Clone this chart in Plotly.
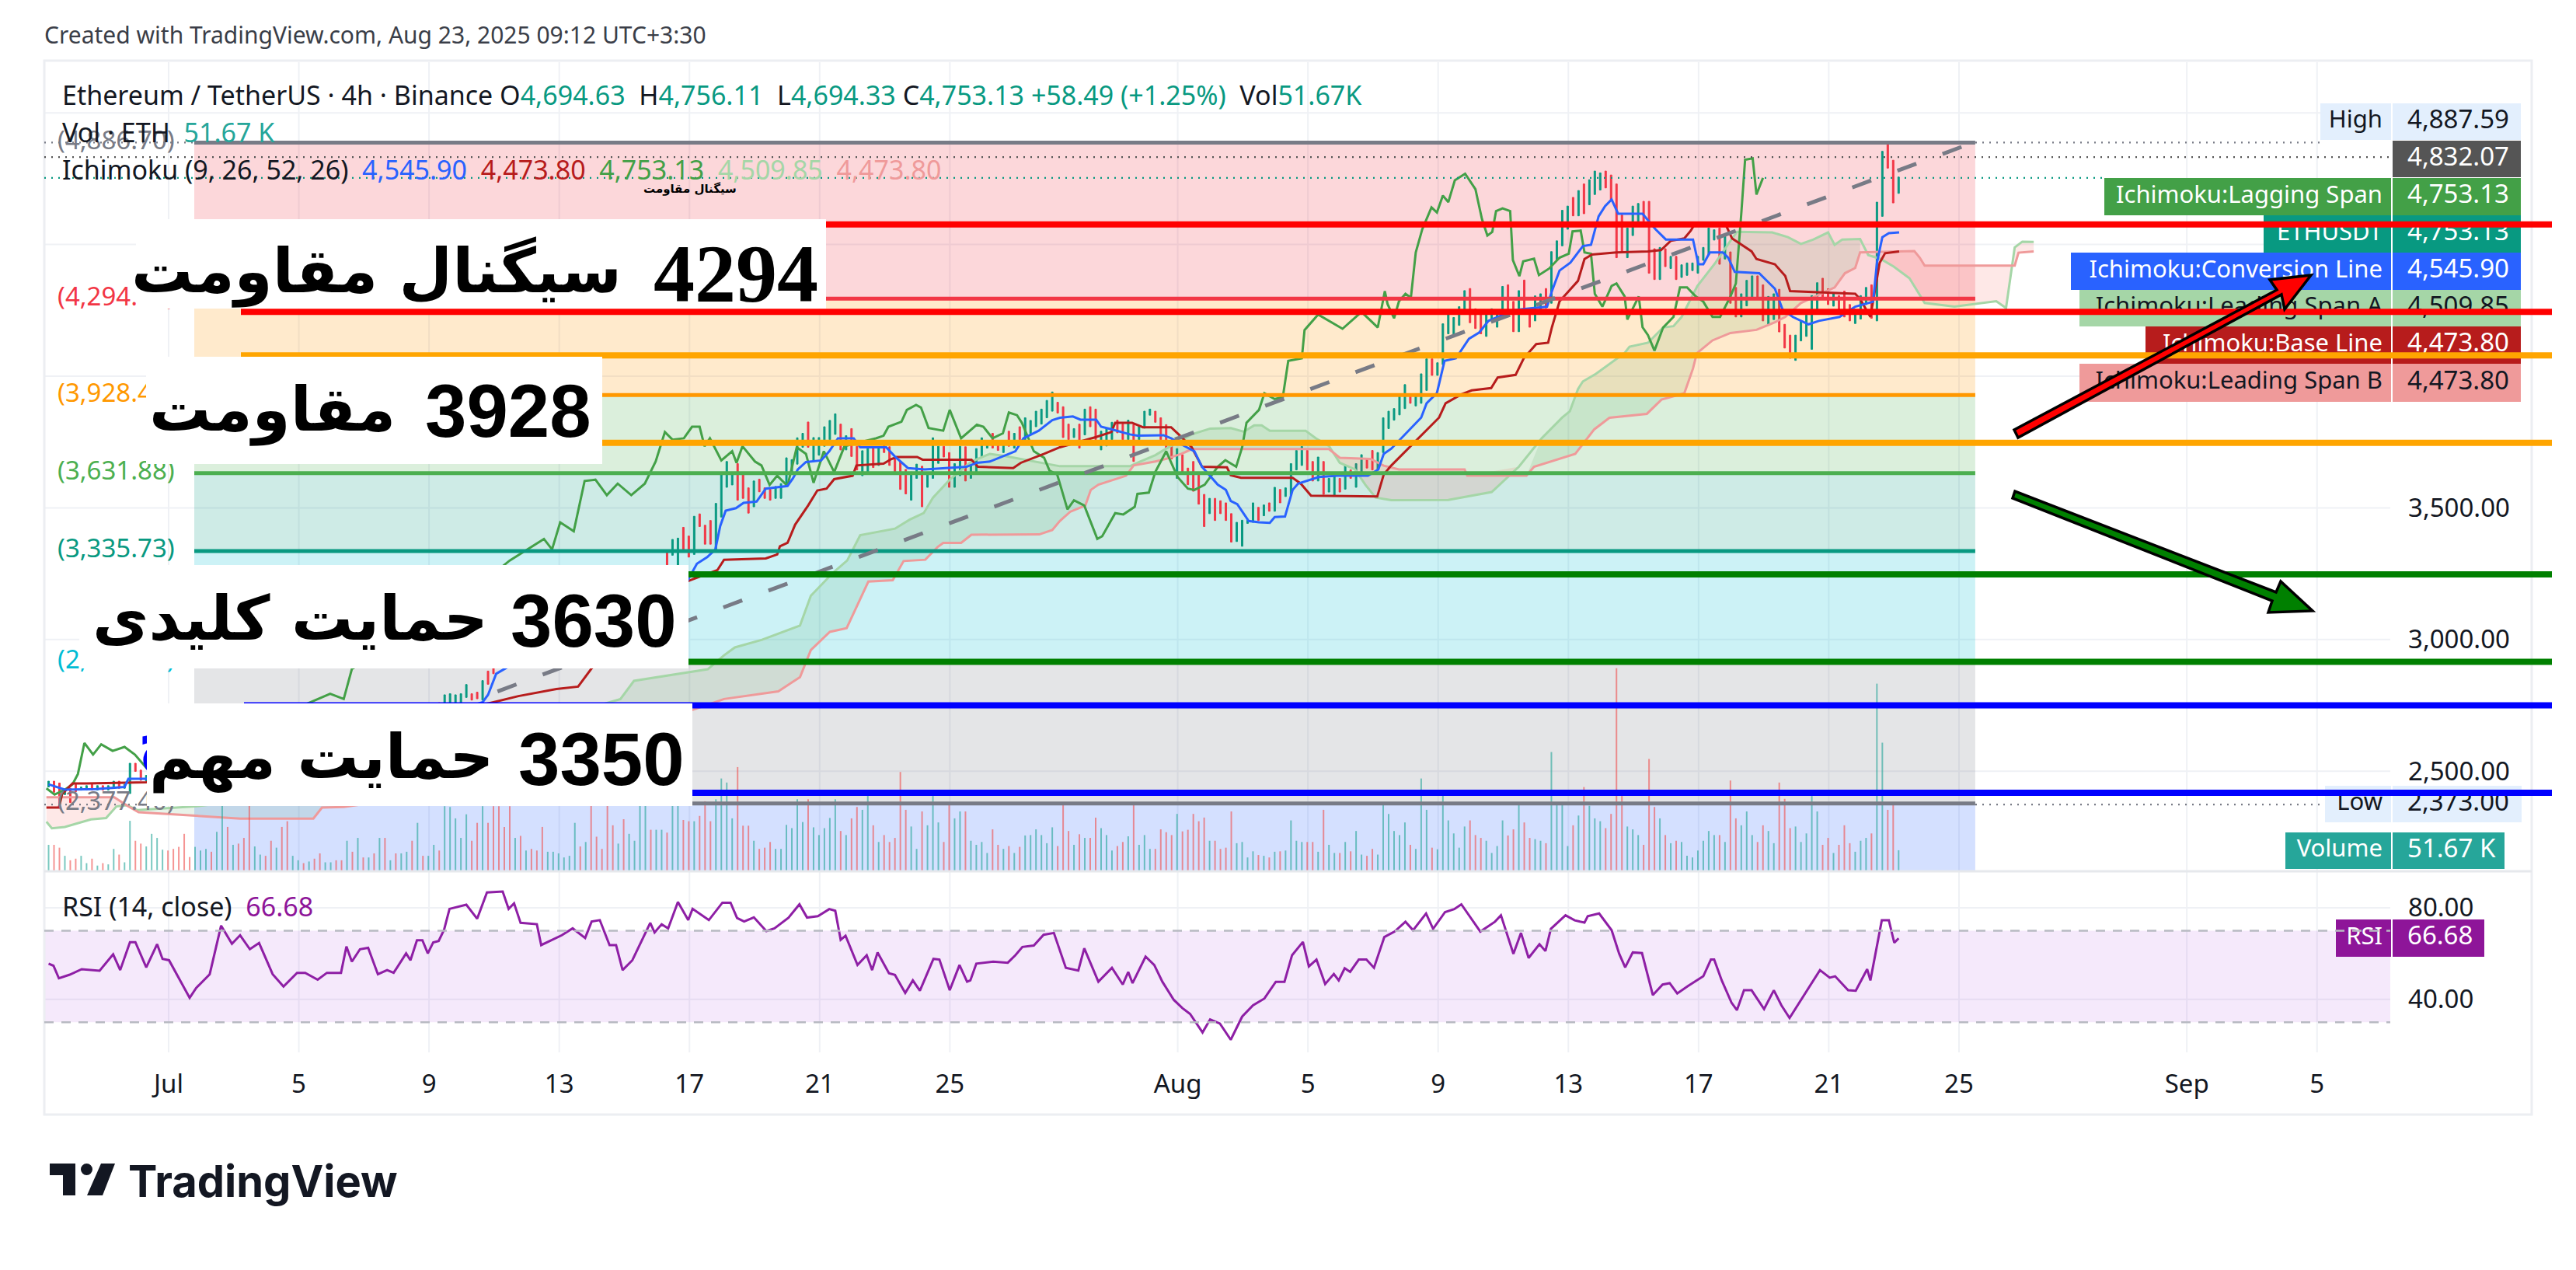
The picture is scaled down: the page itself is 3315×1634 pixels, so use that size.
import pandas as pd
import plotly.graph_objects as go

W, H = 3315, 1634
PANE_L, PANE_R, PANE_T, PANE_MID, PANE_B = 57, 3076, 80, 1121, 1354

# ---------- 4h candles (high / low / direction), Jun 27 07:30 onwards ----------
bar_start = "2025-06-27 07:30"
high_a = [2462,2462,2455,2428,2435,2450,2440,2445,2450,2445,2445,2445,2462,2462,2450,2530,2530,2504,2484]
low_a = [2440,2420,2376,2411,2381,2422,2428,2428,2428,2428,2428,2428,2440,2435,2435,2415,2499,2465,2462]
high_b = [2480,2490,2500,2490,2490,2480,2470,2460,2480,2490,2480,2470,2510,2550,2560,2550,2540,2530,2560,2580,
          2590,2570,2570,2560,2540,2520,2530,2530,2540,2530,2520,2530,2540,2540,2530,2530,2580,2570,2600,2590,
          2610,2590,2620,2610,2620,2590,2620,2600,2620,2650,2640,2680,2720,2760,2790,
          2794,2790,2794,2829,2794,2800,2844,
          2880,2910,2960,2960,2980,2970,3000,2980,2970,2990,2990,3000,3020,3030,3010,3010,3000,3000,3020,3040,
          3060,3080,3040,3000,3010,3060,3100,3140,3120,3130,3160,3210,3280,3330,3380]
low_b = [2450,2460,2470,2460,2455,2450,2435,2430,2450,2460,2450,2440,2470,2500,2520,2510,2500,2500,2520,2540,
         2550,2540,2530,2520,2500,2490,2500,2500,2510,2500,2490,2500,2510,2505,2500,2495,2530,2530,2560,2560,
         2570,2560,2580,2580,2580,2560,2580,2570,2590,2610,2610,2640,2680,2720,2750,
         2740,2740,2750,2780,2770,2775,2770,
         2830,2870,2900,2920,2940,2940,2950,2945,2940,2950,2960,2970,2980,2995,2980,2975,2965,2970,2985,3000,
         3020,3030,2980,2960,2970,3000,3050,3090,3085,3090,3120,3160,3210,3260,3320]
high_c = [3385,3426,3393,3468,3477,3434,3452,3517,3627,3676,3627,3668,3627,3576,3602,3609,3576,3570,3581,3592,
          3690,3683,3766,3783,3826,3767,3767,3808,3832,3857,3818,3774,3801,3734,3717,3725,3732,3732,3754,3732,
          3690,3676,3646,3636,3666,3658,3632,3766,3734,3734,3710,3668,3734,3732,3661,3725,3766,3744,3783,3744,
          3744,3791,3783,3808,3842,3832]
low_c = [3274,3342,3313,3323,3429,3362,3362,3342,3465,3578,3587,3529,3536,3480,3504,3561,3536,3529,3536,3536,
         3583,3636,3666,3730,3730,3676,3700,3734,3759,3779,3720,3720,3695,3644,3622,3632,3653,3661,3710,3661,
         3636,3570,3553,3529,3612,3504,3578,3612,3669,3693,3578,3578,3622,3602,3612,3636,3693,3727,3727,3718,
         3710,3734,3727,3759,3759,3783]
high_d = [3867,3875,3908,3940,3901,3884,3818,3801,3818,3875,3884,3875,3791,3801,3825,3833,3818,3833,3816,3808,
          3867,3875,3867,3842,3816,3735,3725,3702,3651,3676,3634,3551,3536,3536,3527,3519,3478,3445,3453,3455,
          3519,3502,3511,3519,3578,3570,3576,3668,3718,3733,3718,3676,3693,3676,3612,3627,3612,3661,3644,3668,
          3702,3686,3718,3710,3842,3867]
low_d = [3808,3818,3842,3867,3860,3767,3759,3767,3727,3777,3808,3759,3720,3735,3759,3785,3759,3759,3676,3759,
         3803,3852,3825,3759,3728,3686,3612,3629,3588,3563,3514,3429,3478,3452,3478,3452,3370,3372,3354,3441,
         3445,3452,3470,3487,3487,3519,3543,3548,3644,3661,3644,3602,3602,3551,3560,3546,3560,3571,3612,3578,
         3637,3651,3644,3644,3710,3801]
high_e = [3877,3924,3968,3933,3926,4009,4066,4066,4051,4199,4235,4223,4264,4325,4333,4256,4245,4235,4256,4235,
          4341,4347,4284,4325,4365,4235,4305,4313,4333,4473,4514,4630,4646,4679,4705,4730,4746,4779,4772,4779,
          4764,4730,4612,4563,4646,4656,4664]
low_e = [3833,3853,3877,3897,3887,3897,3946,4003,4003,4044,4161,4151,4193,4235,4203,4181,4161,4151,4210,4186,
         4254,4254,4169,4169,4235,4186,4210,4254,4259,4277,4441,4495,4558,4609,4609,4617,4651,4690,4707,4715,
         4671,4450,4473,4450,4534,4578,4588]
high_f = [4664,4484,4489,4484,4455,4455,4423,4430,4430,4455,4489,4563,4556,4563,4531,4472,4337,4313,4364,4381,
          4381,4347,4303,4313,4330,4197,4156,4156,4208,4232,4306,4355,4372,4332,4313,4306,4323,4272,4254,4306,
          4337,4347,4661,4854,4887.59,4820,4756.11]
low_f = [4391,4367,4367,4416,4409,4367,4375,4383,4401,4391,4440,4460,4517,4425,4445,4277,4225,4225,4267,4291,
         4291,4210,4193,4215,4168,4107,4068,4060,4134,4151,4102,4254,4293,4272,4266,4249,4225,4210,4200,4217,
         4272,4220,4210,4607,4790,4658,4694.33]
bar_dir = ("GRRGRRGGRGRGGRGGRRG"
           "GGGRRRRRGGGRGGRGRRRGGRRGRRGGRGRRGGRRGRGRGRGRGRGGRGRGGRG"
           "GGGGRRG"
           "RRRRRGRGRRRGGGGGGRGRRRRRGRGGGGRGGRG"
           "GRRGRRRGGG" "GRRRGRRRGG" "GGGGRGGGGG" "RGRRGGRGRR" "RRRGGRGGGR" "RGGRGGGGRR" "GRGRGG"
           "GGGGRRRGRG" "RRGGGRRGRG" "GGRRRRGRRR" "RRGRRRRGGG" "GRGRGRGGGG" "RRGRGGRGRG" "GRRGGG"
           "GGGRGGGRGG" "GGGGRRRGGG" "GRRGRRGGRG" "GGGRGRGGGR" "RRRGGGR"
           "RRGRGRGGGG" "GGGRGRRGGG" "RRGGRRRGGG" "GGRRGRRRGG" "GRGGRRG")

# ---------- Volume, thousands of ETH ----------
volume_k = [65,65,58,38,27,31,38,20,31,14,20,17,55,41,22,124,75,68,61,92,82,53,51,55,60,92,35,60,51,55,
            48,97,177,109,65,68,82,177,61,41,38,75,58,109,123,38,27,20,24,31,44,22,22,27,27,75,48,82,34,34,
            44,82,82,27,44,44,48,75,119,38,38,65,51,160,158,130,82,140,75,119,160,119,160,160,109,160,82,87,51,55,
            51,109,48,48,44,34,38,119,61,72,164,85,55,164,113,68,128,92,75,164,164,102,102,102,95,164,164,126,123,123,
            136,172,123,177,228,218,130,256,112,112,75,55,58,72,55,55,114,106,177,121,177,108,89,106,131,177,99,89,130,
            158,151,185,113,72,89,72,82,244,151,110,55,147,113,185,120,72,165,130,147,147,75,65,72,45,103,65,55,62,45,
            60,88,89,103,89,69,108,62,165,99,65,91,82,82,132,106,89,51,62,72,86,165,65,89,55,55,103,96,89,141,
            98,102,141,123,132,75,75,55,58,147,69,72,34,49,40,38,34,48,49,51,125,75,72,72,72,48,151,65,45,45,
            72,49,99,41,38,55,41,165,141,99,89,120,65,55,228,151,58,54,192,125,93,58,110,125,89,82,75,45,62,125,
            88,103,165,120,82,79,75,69,293,168,168,62,113,137,207,161,130,123,106,141,499,185,110,103,89,65,276,158,130,89,
            69,75,72,38,34,51,75,99,89,89,72,223,130,113,147,89,72,113,99,69,218,178,106,110,72,93,185,147,65,82,
            45,65,113,69,48,75,82,93,461,316,151,168,51.67]

# ---------- Ichimoku lines: bar position / price pairs ----------
conv_t = [0,3,8.7,14,14.7,18,50,80,81,82.5,90,105,115,118.8,119.5,121.4,122.9,123.8,124.8,126.7,128.1,130.5,132.2,136.2,137.2,138.1,139.6,142.4,143.9,145.5,148.4,149.6,154.4,156,158.4,161.5,169.2,171.1,173.5,178.2,179.7,182.5,185,186.4,188.8,190.2,193.1,194,196,199.3,200.7,205.5,206.9,209.8,211.2,212.6,214.1,215.5,217,217.9,219.1,221.2,223.1,225.1,226,227.9,229.3,230.3,234.1,237.5,243.2,245.1,246.1,247.5,253,254,255.9,257.3,259.4,261.8,263.7,265.4,268.3,270,271.4,276.2,277.1,278.5,280.5,282.1,282.8,284.3,285.7,286.9,288.1,289.3,293.8,296.2,298.1,303.1,304.1,305,306.2,308.6,309.6,310.8,315.3,318.2,319.6,321.5,324.4,326.3,330.1,333,336.3,337,338,339.2,341.1]
conv_v = [2450,2430,2432,2440,2471,2471,2560,2762,2790,2870,2960,3000,3120,3259,3288,3313,3342,3431,3489,3499,3519,3524,3573,3583,3612,3646,3674,3680,3715,3764,3764,3730,3730,3695,3651,3646,3656,3671,3676,3715,3764,3793,3833,3842,3847,3835,3835,3808,3798,3779,3774,3776,3764,3730,3715,3656,3622,3588,3568,3526,3514,3450,3445,3443,3465,3467,3568,3592,3617,3622,3622,3646,3705,3725,3843,3897,3936,4058,4068,4142,4166,4210,4235,4250,4254,4264,4323,4401,4431,4475,4494,4499,4607,4646,4671,4617,4617,4558,4519,4519,4425,4425,4470,4470,4450,4396,4391,4332,4254,4225,4197,4210,4225,4264,4283,4430,4528,4543,4545.9]
base_t = [-0.4,1.9,2.5,4.4,7,18,82,86.6,93.6,97.6,100,115,123.3,124.5,132.2,134.3,134.8,136.2,137.6,140,141.7,143.4,144.8,148.2,148.9,153.9,155.3,156.3,160.1,161.1,170.1,171.3,177.8,179.2,183.5,186.4,193.1,195.9,196.6,199.7,201.7,206.9,208.3,210.7,212.6,217.2,217.9,219.8,229.3,230.8,232.7,244.9,246.1,247.5,256.3,257.5,260.4,262.3,265.9,267.1,270.4,271.9,274.2,276.4,277.1,278.5,280.4,281.9,283.1,284.5,289,294.8,297.2,299,301.5,302.7,303.4,309.1,310.3,311.7,313.9,314.8,318.2,320.1,321,333,333.9,335.8,337.5,338.5,341.1]
base_v = [2362,2362,2413,2453,2453,2458,2762,2785,2812,2821,2888,3200,3264,3303,3308,3323,3354,3367,3436,3509,3566,3573,3609,3622,3661,3668,3685,3693,3693,3683,3683,3656,3651,3671,3705,3730,3769,3788,3823,3823,3806,3806,3779,3730,3656,3654,3624,3614,3614,3592,3546,3543,3627,3661,3843,3897,3931,3946,3955,3995,4005,4068,4122,4127,4186,4284,4328,4362,4445,4462,4470,4474,4479,4514,4523,4553,4577,4577,4523,4504,4474,4445,4425,4381,4323,4313,4293,4225,4430,4467,4473.8]
lag_t = [-0.4,1.1,3,4.4,5.4,6.6,8.2,9.7,11.8,14,15.9,18,30,48.4,51.9,54.4,55.9,70,85,91.3,92.8,94.3,96.8,98.8,100.8,102.9,104.9,107.4,109.9,111.9,113.6,115,117.1,118.6,120,120.9,121.9,124,126,126.8,127.9,130.2,131.4,132.9,134.3,136.2,137.9,139.6,141,142.9,144.8,146.7,152.5,153.9,154.8,157.2,158.2,159.9,160.8,162.2,164.9,166.1,168.2,171.1,172.3,174,175.9,177,178.5,179.4,181.6,183.5,184.5,185.9,187.8,189,190.9,193.3,194.2,196.6,198.1,200.2,200.7,202.8,204,206,208.1,210,211.2,213.1,215.5,216.9,218.9,220,220.8,223.1,224.1,226,227.5,228.5,231,231.5,234,238.5,242,245,246.3,246.8,248,248.9,250.1,251.1,252,253.2,254,254.9,255.9,257,258,259.2,261.1,263,264.2,265.2,266.1,266.8,268,269.4,269.9,271.1,271.8,273.8,274.7,276.6,278.5,280.2,280.9,282.4,283.1,284.3,285,286.4,288.1,289,290.5,291,293.1,293.8,294.8,296,297.6,299.5,300.7,302,303.6,305,306.7,308.1,310,311,312,312.7,314.1,314.8,316]
lag_v = [2435,2411,2430,2450,2489,2607,2563,2602,2577,2592,2563,2513,2600,2762,2794,2774,2888,3050,3300,3382,3342,3445,3411,3602,3607,3548,3592,3548,3592,3676,3788,3759,3764,3808,3808,3734,3764,3680,3715,3671,3734,3676,3661,3587,3622,3583,3730,3705,3595,3715,3636,3734,3764,3774,3808,3827,3872,3891,3881,3803,3793,3872,3764,3816,3808,3764,3783,3862,3852,3823,3715,3690,3641,3627,3494,3529,3509,3382,3392,3480,3475,3504,3553,3558,3637,3715,3617,3573,3568,3588,3656,3681,3656,3730,3823,3872,3935,3913,3921,4058,4068,4175,4234,4180,4244,4185,4323,4274,4220,4284,4313,4298,4470,4558,4597,4641,4622,4686,4661,4744,4769,4710,4597,4534,4548,4627,4637,4627,4441,4380,4436,4446,4384,4409,4450,4465,4550,4553,4470,4465,4313,4264,4343,4352,4303,4215,4303,4186,4156,4097,4185,4225,4337,4337,4303,4283,4225,4225,4303,4352,4617,4822,4827,4690,4753.13]
span_a_t = [-0.4,0.6,3,7.8,10.6,12.5,14.4,16.4,26.9,40,60,85,105.4,107.9,121.5,124.5,126.5,131.5,138.5,140.5,144.6,147.2,149.6,156,158.7,161.3,163,166.1,170.1,173.5,176.3,183,186.4,199.3,201.2,204,206,210.7,214.1,217.9,220.3,222.2,223.6,225.1,231.7,233.6,236,238,240.8,242.7,244.6,247.5,258,266,271,275.2,279,280.4,281.9,282.8,285.2,290.5,291.4,294.8,297.6,299.5,301,303.9,305,307.2,310.3,311.2,317.7,320.6,323,325.3,328,329.2,330.6,333.9,335.4,337.7,340.1,343,345.8,351.3,359,360.8,362.4,363.8,365.9]
span_a_v = [2308,2283,2288,2317,2322,2366,2371,2352,2366,2400,2550,2650,2774,2843,2887,2940,2970,2999,3053,3166,3254,3300,3396,3421,3455,3480,3538,3607,3676,3705,3697,3671,3658,3658,3676,3700,3725,3779,3801,3803,3789,3813,3813,3793,3793,3764,3735,3671,3646,3588,3539,3529,3530,3560,3656,3764,3843,3867,3951,3980,4009,4088,4112,4127,4185,4190,4225,4342,4372,4430,4523,4548,4546,4528,4502,4519,4546,4499,4519,4521,4460,4445,4416,4372,4278,4264,4285,4259,4489,4511,4509.85]
span_b_t = [-0.4,12.1,14.7,16.6,35.3,48.8,50.4,54.4,80,100,124.5,134.5,138.5,140.5,144,147.1,151.1,155.6,157.6,161.6,163.9,164.9,168.2,170.1,182.6,185,186.4,188.3,191.1,192.1,193.5,198.6,200,204,206,208.8,210.7,236,238,243.7,246.1,248.9,261,261.5,272.4,273.8,281.4,284.9,287.7,294.6,297.3,301.5,303.1,303.8,306.7,310,314.8,318.2,320.1,323,329.2,331.1,333,333.9,343.9,344.9,345.8,362.4,363.1,365.9]
span_b_v = [2401,2401,2366,2344,2320,2320,2362,2364,2440,2600,2774,2803,2857,2960,3029,3043,3220,3225,3298,3303,3352,3367,3367,3398,3399,3416,3450,3485,3509,3568,3588,3622,3661,3676,3686,3705,3723,3723,3690,3686,3660,3646,3646,3622,3622,3656,3705,3798,3842,3857,3911,3935,4029,4087,4136,4164,4176,4205,4225,4278,4337,4391,4411,4470,4475,4450,4420,4420,4469,4473.8]
kumo_segments = [(-0.4, 14.5, "red"), (14.5, 238, "green"), (238, 272, "red"), (272, 334.5, "green"), (334.5, 365.9, "red")]

# ---------- RSI ----------
rsi_t = [0,0.9,1.9,3.9,6.1,9.4,11.9,13.2,15,16,18,20,21,22.2,26,27.2,29.7,31.8,33.8,35.3,37.1,38.8,41.3,43.3,45.8,47.3,49.6,51.3,53.9,54.9,55.9,57.4,58.9,60.7,62.4,63.6,65.9,66.7,67.9,68.9,69.9,70.9,71.9,72.9,73.9,77,79,80.8,83.7,84.8,85.8,87,90,90.8,94.6,96.6,98.9,100.1,101.6,103.4,104.6,105.8,107.6,109.1,110.9,111.7,113,114.2,116,117.9,118.7,121.7,124.2,125.7,126.9,128.2,130,132.3,133.8,136.4,138.4,139.8,141.8,143.9,145,146,146.9,149.1,150.8,151.8,152.8,154.9,156,157.9,159.3,160.6,163.1,164.2,166.1,167.9,169.3,169.9,171,174.1,176.8,178.2,179.5,181.6,183.4,185.3,187.5,189.8,190.9,193.5,196,198,199,199.8,202.2,203.8,205.3,207.4,209,210.4,212.7,214.1,215.9,217.9,220,222,224.1,226.2,227.8,229.2,231.2,232.3,233.7,235.3,236.9,237.8,238.9,239.9,241.5,242.9,244.3,246.2,248.1,250.1,251.5,253.9,255.2,257.4,259.1,260.4,263.9,266.6,267.7,270,271.4,272.8,274.8,275.9,276.9,279.6,281.3,283.1,283.7,285.8,288.1,289.5,290.6,292,293.7,295.7,297.5,298.8,300.2,302.2,305,306.4,307,308.4,310.2,311.2,312.5,313.9,316.2,318,319.4,320.9,323.5,326.5,328.3,329.3,331.7,333.1,335.2,335.8,337.9,339.2,340.2,341]
rsi_v = [55.6,54.7,49.2,50.8,53.2,52.5,59.7,52.8,65,65,54,64.1,57.7,57.1,40.7,45,51,72.2,64.3,68,61.9,64.6,51,45.6,51.6,51.6,48.6,51.6,51.6,63.1,56.5,61.9,62.5,51,52.8,51.6,60.1,57.1,65.8,65.8,60.1,64.9,65.5,70.4,79.5,81.3,75.2,86.7,87.1,79.5,81.9,73.4,72.8,63.7,68,71,66.8,74,74.6,63.7,63.7,52.8,57.1,64.3,73.4,69.2,72.8,71,82.5,74.6,79.5,74.6,82.2,82.2,75.5,74,75.8,69.8,71,75.7,81.5,75.7,76.3,79.4,78.7,66,67.8,55,59.3,52.8,60.5,51.4,50.7,42.8,48.3,43.8,57.7,57.4,44,55,47.7,48.3,55.6,56.5,56,59.3,62.9,63.5,68.2,69,53.8,52.6,62.3,47.7,53.8,46.5,52,47.1,58.7,55,47.7,39.8,36.2,33.7,25.6,31.3,29.5,22.4,32.5,37.4,40.4,47.7,47.7,59.3,65.1,54.4,57.4,46.7,51.1,48.3,53.6,52,57.4,57.4,53.8,67.2,69.6,73.9,70.2,77.5,70.8,78.1,79.4,81.5,69.6,73.9,76.7,59.9,69,58.1,64.1,61.1,70.8,76.7,74.5,73.5,76.3,77.5,70.2,59.9,54,60.5,60.2,41.9,46.5,47.1,42.6,45.9,50.1,57.4,57.4,48.3,38.6,35.3,44,44,35.8,44,37.4,31.9,41.6,52.8,49.5,50.1,44,43.8,53.2,48.3,74.5,74.5,64.7,66.68]

# ---------- Drawn levels and tick labels ----------
fib_levels = [4886.70, 4294.40, 3928.10, 3631.88, 3335.73, 2914.39, 2377.40]
fib_labels = ["(4,886.70)", "(4,294.40)", "(3,928.40)", "(3,631.88)", "(3,335.73)", "(2,914.39)", "(2,377.40)"]
fib_colors = ["#787b86", "#f23645", "#ff9800", "#4caf50", "#089981", "#00bcd4", "#787b86"]
fib_bands = ["rgba(242,54,69,0.2)", "rgba(255,152,0,0.2)", "rgba(76,175,80,0.2)", "rgba(8,153,129,0.2)",
             "rgba(0,188,212,0.2)", "rgba(120,123,134,0.2)", "rgba(41,98,255,0.2)"]
user_levels = [4576, 4244, 4079, 3747, 3247, 2915, 2750, 2418]
user_colors = ["#ff0000", "#ff0000", "#ffa500", "#ffa500", "#008000", "#008000", "#0000ff", "#0000ff"]
user_starts = [1063, 310, 310, 310, 310, 310, 314, 314]
price_ticks = [2500, 3000, 3500, 4000, 4500, 5000]
price_tick_text = ["2,500.00", "3,000.00", "3,500.00", "4,000.00", "4,500.00", "5,000.00"]
rsi_ticks = [40, 80]
rsi_tick_text = ["40.00", "80.00"]
date_ticks = ["2025-07-01","2025-07-05","2025-07-09","2025-07-13","2025-07-17","2025-07-21","2025-07-25",
              "2025-08-01","2025-08-05","2025-08-09","2025-08-13","2025-08-17","2025-08-21","2025-08-25",
              "2025-09-01","2025-09-05"]
date_labels = ["Jul","5","9","13","17","21","25","Aug","5","9","13","17","21","25","Sep","5"]

high = high_a + high_b + high_c + high_d + high_e + high_f
low = low_a + low_b + low_c + low_d + low_e + low_f
times = pd.date_range(bar_start, periods=len(high), freq="4h")
base_time = pd.Timestamp(bar_start)


def bar_time(ts):
    return [base_time + pd.Timedelta(hours=4 * t) for t in ts]


opens = [l if d == "G" else h for h, l, d in zip(high, low, bar_dir)]
closes = [h if d == "G" else l for h, l, d in zip(high, low, bar_dir)]
UI_FONT = "Noto Sans"
INK = "#131722"

fig = go.Figure()

# Volume
fig.add_trace(go.Bar(x=times, y=volume_k, yaxis="y4", xaxis="x", width=4.1e6,
                     marker=dict(color=["rgba(38,166,154,0.62)" if d == "G" else "rgba(239,83,80,0.62)" for d in bar_dir],
                                 line_width=0), hoverinfo="skip", showlegend=False))

# Kumo
for t0, t1, name in kumo_segments:
    a = [(t, v) for t, v in zip(span_a_t, span_a_v) if t0 <= t <= t1]
    b = [(t, v) for t, v in zip(span_b_t, span_b_v) if t0 <= t <= t1]
    poly = a + b[::-1]
    fig.add_trace(go.Scatter(x=bar_time([p[0] for p in poly]), y=[p[1] for p in poly], fill="toself", mode="none",
                             fillcolor="rgba(67,160,71,0.12)" if name == "green" else "rgba(244,67,54,0.12)",
                             hoverinfo="skip", showlegend=False))
for ts, vs, col in [(span_a_t, span_a_v, "#a5d6a7"), (span_b_t, span_b_v, "#ef9a9a"), (lag_t, lag_v, "#43a047"),
                    (base_t, base_v, "#b71c1c"), (conv_t, conv_v, "#2962ff")]:
    fig.add_trace(go.Scatter(x=bar_time(ts), y=vs, mode="lines", line=dict(color=col, width=3),
                             hoverinfo="skip", showlegend=False))

# Candles
fig.add_trace(go.Candlestick(x=times, open=opens, high=high, low=low, close=closes, whiskerwidth=0,
                             increasing=dict(line=dict(color="#089981", width=1), fillcolor="#089981"),
                             decreasing=dict(line=dict(color="#f23645", width=1), fillcolor="#f23645"),
                             hoverinfo="skip", showlegend=False))

# RSI
fig.add_trace(go.Scatter(x=bar_time(rsi_t), y=rsi_v, xaxis="x2", yaxis="y2", mode="lines",
                         line=dict(color="#8e1fa5", width=3), hoverinfo="skip", showlegend=False))

# Page-space text (sits under the drawn lines and white panels)
tags = [  # label, value, x0, x1, y0, y1, fill, text colour
    ("High", "4,887.59", 2986, 3244, 133, 180, "#e3effd", INK),
    ("", "4,832.07", 3078, 3244, 181, 228, "#555555", "#ffffff"),
    ("Ichimoku:Lagging Span", "4,753.13", 2708, 3244, 229, 277, "#43a047", "#ffffff"),
    ("ETHUSDT", "4,753.13", 2913, 3244, 277, 325, "#089981", "#ffffff"),
    ("Ichimoku:Conversion Line", "4,545.90", 2665, 3244, 325, 373, "#2962ff", "#ffffff"),
    ("Ichimoku:Leading Span A", "4,509.85", 2676, 3244, 373, 420, "#a5d6a7", INK),
    ("Ichimoku:Base Line", "4,473.80", 2761, 3244, 420, 468, "#b71c1c", "#ffffff"),
    ("Ichimoku:Leading Span B", "4,473.80", 2676, 3244, 468, 517, "#ef9a9a", INK),
    ("Low", "2,373.00", 2992, 3245, 1011, 1058, "#e3effd", INK),
    ("Volume", "51.67 K", 2941, 3223, 1071, 1118, "#26a69a", "#ffffff"),
    ("RSI", "66.68", 3006, 3197, 1183, 1231, "#8e1599", "#ffffff"),
]
tx, ty, tt, tc, tp, ts_ = [], [], [], [], [], []
for lab, val, x0, x1, y0, y1, fill, col in tags:
    ym = (y0 + y1) / 2
    if lab:
        tx.append(3066); ty.append(ym); tt.append(lab); tc.append(col); tp.append("middle left"); ts_.append(31)
    tx.append(3098); ty.append(ym); tt.append(val); tc.append(col); tp.append("middle right"); ts_.append(33)
for lab, lev, col in zip(fib_labels, fib_levels, fib_colors):
    tx.append(74); ty.append(653.4 - (lev - 3500) * 0.3388); tt.append(lab); tc.append(col)
    tp.append("middle right"); ts_.append(33)
tx.append(177); ty.append(959); tt.append("<b>ج</b>"); tc.append("#0000ff"); tp.append("middle right"); ts_.append(84)
fig.add_trace(go.Scatter(x=tx, y=ty, text=tt, mode="text", xaxis="x3", yaxis="y3", textposition=tp,
                         textfont=dict(family=UI_FONT + ", DejaVu Sans", color=tc, size=ts_),
                         hoverinfo="skip", showlegend=False, cliponaxis=False))

shapes = []
# outer frame and separators
shapes.append(dict(type="rect", xref="x3", yref="y3", x0=57, x1=3258, y0=78, y1=1434, layer="below",
                   line=dict(color="#eceef2", width=3), fillcolor="rgba(0,0,0,0)"))
# grid
GRID = "#eff1f5"
for d in date_ticks:
    shapes.append(dict(type="line", xref="x", yref="paper", x0=d, x1=d, y0=1 - PANE_B / H, y1=1 - PANE_T / H,
                       layer="below", line=dict(color=GRID, width=2)))
for p in price_ticks:
    shapes.append(dict(type="line", xref="paper", yref="y", x0=PANE_L / W, x1=PANE_R / W, y0=p, y1=p,
                       layer="below", line=dict(color=GRID, width=2)))
for p in rsi_ticks:
    shapes.append(dict(type="line", xref="paper", yref="y2", x0=PANE_L / W, x1=PANE_R / W, y0=p, y1=p,
                       layer="below", line=dict(color=GRID, width=2)))
shapes.append(dict(type="line", xref="x3", yref="y3", x0=57, x1=3258, y0=1121, y1=1121, layer="below",
                   line=dict(color="#e6e8ec", width=3)))
# fib bands
band_x0, band_x1 = "2025-07-01 18:55", "2025-08-25 12:00"
edges = fib_levels + [2119.8]
for i, c in enumerate(fib_bands):
    shapes.append(dict(type="rect", xref="x", yref="y", x0=band_x0, x1=band_x1, y0=edges[i + 1], y1=edges[i],
                       layer="below", fillcolor=c, line_width=0))
# RSI band
shapes.append(dict(type="rect", xref="paper", yref="y2", x0=PANE_L / W, x1=PANE_R / W, y0=30, y1=70, layer="below",
                   fillcolor="rgba(156,39,220,0.1)", line_width=0))
# tag backgrounds
for lab, val, x0, x1, y0, y1, fill, col in tags:
    shapes.append(dict(type="rect", xref="x3", yref="y3", x0=x0, x1=x1, y0=y0, y1=y1, layer="below",
                       fillcolor=fill, line_width=0))
    shapes.append(dict(type="line", xref="x3", yref="y3", x0=3078, x1=3078, y0=y0, y1=y1, layer="below",
                       line=dict(color="#ffffff", width=2)))
# RSI dashed limits
for p in [70, 30]:
    shapes.append(dict(type="line", xref="paper", yref="y2", x0=PANE_L / W, x1=PANE_R / W, y0=p, y1=p,
                       line=dict(color="#b8bac2", width=2.5, dash="12px,10px")))
# dotted price lines
for price, x0, x1, col in [(4887.59, 2542, 2986, "#787b86"), (4887.59, 57, 250, "#787b86"),
                           (4832.07, 57, 3078, "#555555"), (4753.13, 57, 2708, "#089981"),
                           (2373.0, 2542, 2992, "#787b86"), (2373.0, 57, 250, "#787b86")]:
    shapes.append(dict(type="line", xref="paper", yref="y", x0=x0 / W, x1=x1 / W, y0=price, y1=price,
                       line=dict(color=col, width=2.2, dash="2px,7px")))
# fib lines
for lev, col in zip(fib_levels, fib_colors):
    shapes.append(dict(type="line", xref="x", yref="y", x0=band_x0, x1=band_x1, y0=lev, y1=lev,
                       line=dict(color=col, width=5)))
# trend line
shapes.append(dict(type="line", xref="x", yref="y", x0="2025-07-11 02:30", x1="2025-08-25 03:00", y0=2803, y1=4873,
                   line=dict(color="#787b86", width=5, dash="26px,36px")))
# user horizontal lines
for lev, col, st in zip(user_levels, user_colors, user_starts):
    shapes.append(dict(type="line", xref="paper", yref="y", x0=st / W, x1=3284 / W, y0=lev, y1=lev,
                       line=dict(color=col, width=8)))
# white text panels
for x0, x1, y0, y1 in [(175, 1063, 282, 397), (188, 775, 459, 597), (102, 886, 727, 860), (189, 891, 905, 1037)]:
    shapes.append(dict(type="rect", xref="x3", yref="y3", x0=x0, x1=x1, y0=y0, y1=y1, fillcolor="#ffffff", line_width=0))
# arrows
shapes.append(dict(type="path", xref="x3", yref="y3",
                   path="M 2592 553 L 2597 563 L 2936 379 L 2940 398 L 2974 354 L 2921 360 L 2930 373 Z",
                   fillcolor="#ff0000", line=dict(color="#000000", width=3.5)))
shapes.append(dict(type="path", xref="x3", yref="y3",
                   path="M 2593 632 L 2590 641 L 2924 773 L 2919 788 L 2976 786 L 2935 748 L 2929 762 Z",
                   fillcolor="#008000", line=dict(color="#000000", width=3.5)))
# logo
shapes.append(dict(type="path", xref="x3", yref="y3", path="M 64 1497 L 97 1497 L 97 1538 L 81 1538 L 81 1512 L 64 1512 Z",
                   fillcolor=INK, line_width=0))
shapes.append(dict(type="circle", xref="x3", yref="y3", x0=104, x1=119, y0=1497, y1=1512, fillcolor=INK, line_width=0))
shapes.append(dict(type="path", xref="x3", yref="y3", path="M 130 1497 L 148 1497 L 132 1538 L 112 1538 Z",
                   fillcolor=INK, line_width=0))

anns = []


def note(x, y, text, size, color=INK, family=UI_FONT, xanchor="left"):
    anns.append(dict(xref="paper", yref="paper", x=x / W, y=1 - y / H, text=text, showarrow=False, xanchor=xanchor,
                     yanchor="middle", align="left", font=dict(family=family, size=size, color=color), borderpad=0,
                     borderwidth=0))


def c(col, t):
    return f'<span style="color:{col}">{t}</span>'


TEAL = "#089981"
SP = "&nbsp;"
note(57, 44, "Created with TradingView.com, Aug 23, 2025 09:12 UTC+3:30", 30, "#3a3e48")
note(80, 122, "Ethereum / TetherUS · 4h · Binance O" + c(TEAL, "4,694.63") + SP + " H" + c(TEAL, "4,756.11") + SP + " L" + c(TEAL, "4,694.33")
     + " C" + c(TEAL, "4,753.13") + " " + c(TEAL, "+58.49 (+1.25%)") + SP + " Vol" + c(TEAL, "51.67K"), 34)
note(80, 170, "Vol · ETH " + SP + c("#26a69a", "51.67 K"), 34)
note(80, 218, "Ichimoku (9, 26, 52, 26) " + SP + c("#2962ff", "4,545.90") + SP + " " + c("#b71c1c", "4,473.80") + SP + " " + c("#43a047", "4,753.13")
     + SP + " " + c("#a5d6a7", "4,509.85") + SP + " " + c("#ef9a9a", "4,473.80"), 34)
note(80, 1166, "RSI (14, close) " + SP + c("#8e1599", "66.68"), 34)
note(948, 243, "<b>سیگنال مقاومت</b>", 15, "#000000", "DejaVu Sans", "right")

DIGITS = "Liberation Sans"
note(1053, 352, "<b>4294</b>", 106, "#000000", "Liberation Serif", "right")
note(800, 350, "<b>سیگنال مقاومت</b>", 79, "#000000", "DejaVu Sans", "right")
note(761, 529, "<b>3928</b>", 96, "#000000", DIGITS, "right")
note(509, 527, "<b>مقاومت</b>", 79, "#000000", "DejaVu Sans", "right")
note(871, 798, "<b>3630</b>", 96, "#000000", DIGITS, "right")
note(628, 796, "<b>حمایت کلیدی</b>", 79, "#000000", "DejaVu Sans", "right")
note(881, 976, "<b>3350</b>", 96, "#000000", DIGITS, "right")
note(635, 974, "<b>حمایت مهم</b>", 79, "#000000", "DejaVu Sans", "right")
note(165, 1520, "<b>TradingView</b>", 56, INK, "Inter")

dom_x = [PANE_L / W, PANE_R / W]
axis_font = dict(family=UI_FONT, size=33, color=INK)
fig.update_layout(
    width=W, height=H, autosize=False, margin=dict(l=0, r=0, t=0, b=0),
    paper_bgcolor="#ffffff", plot_bgcolor="rgba(0,0,0,0)", showlegend=False, boxgap=0.6, barmode="overlay",
    hovermode=False,
    xaxis=dict(domain=dom_x, anchor="y", range=["2025-06-27 04:20", "2025-09-07 06:00"], showgrid=False, zeroline=False,
               showticklabels=False, ticks="", rangeslider=dict(visible=False), showline=False),
    xaxis2=dict(domain=dom_x, anchor="y2", matches="x", showgrid=False, zeroline=False, tickmode="array",
                tickvals=date_ticks, ticktext=date_labels, tickangle=0, ticks="", tickfont=axis_font,
                ticklabelstandoff=18, showline=False, rangeslider=dict(visible=False)),
    yaxis=dict(domain=[1 - PANE_MID / H, 1 - PANE_T / H], anchor="x", side="right", range=[2119.8, 5192.5], showgrid=False,
               zeroline=False, tickmode="array", tickvals=price_ticks, ticktext=price_tick_text, ticks="",
               tickfont=axis_font, ticklabelstandoff=22, showline=False),
    yaxis2=dict(domain=[1 - PANE_B / H, 1 - PANE_MID / H], anchor="x2", side="right", range=[16.9, 95.9], showgrid=False,
                zeroline=False, tickmode="array", tickvals=rsi_ticks, ticktext=rsi_tick_text, ticks="",
                tickfont=axis_font, ticklabelstandoff=22, showline=False),
    yaxis4=dict(overlaying="y", anchor="x", side="left", range=[0, 1988], visible=False),
    xaxis3=dict(domain=[0, 1], anchor="y3", range=[0, W], visible=False, fixedrange=True),
    yaxis3=dict(domain=[0, 1], anchor="x3", range=[H, 0], visible=False, fixedrange=True),
    shapes=shapes, annotations=anns,
)
fig.write_html("out.html", config=dict(displayModeBar=False),
               post_script="document.body.style.margin='0';document.documentElement.style.overflow='hidden';")
